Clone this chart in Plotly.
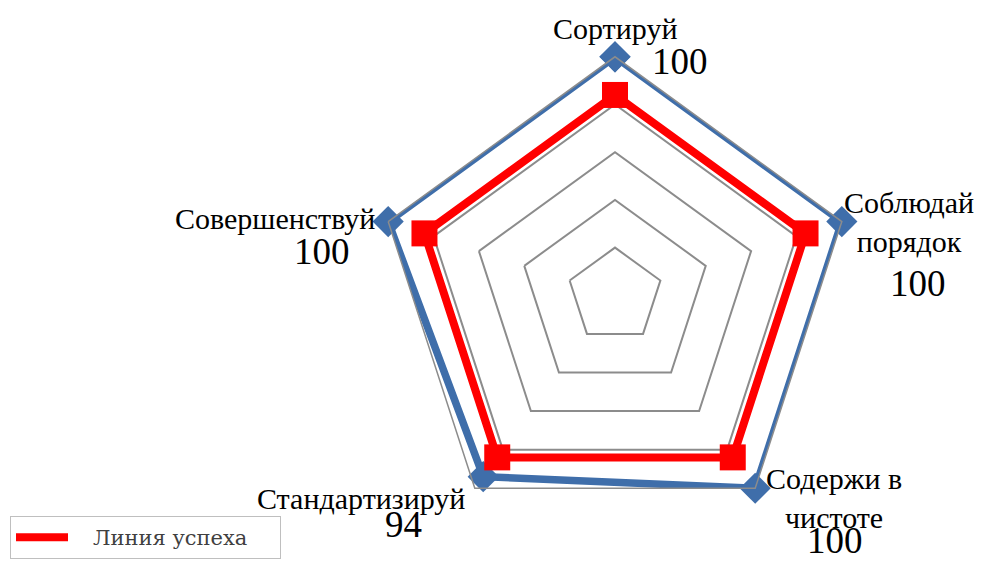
import math
import plotly.graph_objects as go

# ---- data ----
categories = ["Сортируй", "Соблюдай<br>порядок", "Содержи в<br>чистоте", "Стандартизируй", "Совершенствуй"]
actual_values = [100, 100, 100, 94, 100]
target_values = [84, 84, 84, 84, 84]
target_name = "Линия успеха"
actual_name = "Факт"
axis_max = 100

W, H = 992, 572
OFF = 8                      # page body margin of the html page
CX, CY, R = 615 - OFF, 295.3 - OFF, 238.5   # polar centre / radius in figure px

dom_x = [(CX - R) / W, (CX + R) / W]
dom_y = [(H - CY - R) / H, (H - CY + R) / H]

theta = categories + categories[:1]
BLUE = "#3F6EAA"
RED = "#FF0000"
GRID = "#8C8C8C"


def vertex(i, v):
    ang = math.radians(90 - 72 * i)
    return CX + R * v / axis_max * math.cos(ang), CY - R * v / axis_max * math.sin(ang)


fig = go.Figure()
fig.add_trace(go.Scatterpolar(
    r=actual_values + actual_values[:1], theta=theta, mode="lines+markers",
    name=actual_name, showlegend=False,
    line=dict(color=BLUE, width=7.5),
    marker=dict(symbol="diamond", size=24, color=BLUE),
))
fig.add_trace(go.Scatterpolar(
    r=target_values + target_values[:1], theta=theta, mode="lines",
    name="\u00a0\u00a0\u00a0" + target_name + "\u00a0" * 4, showlegend=True,
    line=dict(color=RED, width=8),
))
fig.add_trace(go.Scatterpolar(
    r=target_values, theta=categories, mode="markers",
    name=target_name, showlegend=False,
    marker=dict(symbol="square", size=26, color=RED),
))

annotations = []
# category labels placed around the outer ring
cat_style = [
    (0, -28, "center"), (67, 0, "center"), (79, 10, "center"), (-8, 10, "right"), (-11, -3, "right"),
]
for i, (cat, (dx, dy, xa)) in enumerate(zip(categories, cat_style)):
    px, py = vertex(i, axis_max)
    annotations.append(dict(
        x=(px + dx) / W, y=1 - (py + dy) / H, xref="paper", yref="paper",
        text=cat, showarrow=False, xanchor=xa, yanchor="middle", align="center",
        font=dict(family="Liberation Serif", size=30, color="black"),
    ))

# data labels placed relative to each actual point
offsets = [(65, 5), (76, 62), (80, 52), (-80, 48), (-66, 30)]
for i, (v, (dx, dy)) in enumerate(zip(actual_values, offsets)):
    px, py = vertex(i, v)
    annotations.append(dict(
        x=(px + dx) / W, y=1 - (py + dy) / H, xref="paper", yref="paper",
        text=str(v), showarrow=False, xanchor="center", yanchor="middle",
        font=dict(family="Liberation Serif", size=37, color="black"),
    ))

fig.update_layout(
    width=W, height=H,
    margin=dict(l=0, r=0, t=0, b=0),
    paper_bgcolor="white", plot_bgcolor="white",
    font=dict(family="Liberation Serif", color="black"),
    polar=dict(
        domain=dict(x=dom_x, y=dom_y),
        bgcolor="white",
        gridshape="linear",
        radialaxis=dict(range=[0, axis_max], dtick=20, showticklabels=False, ticks="",
                        showline=False, gridcolor=GRID, gridwidth=1.5),
        angularaxis=dict(rotation=90, direction="clockwise", showgrid=False,
                         showticklabels=False,
                         linecolor=GRID, linewidth=1.5, ticks=""),
    ),
    showlegend=True,
    legend=dict(x=(10 - OFF) / W, y=1 - (516 - OFF) / H, xanchor="left", yanchor="top",
                bordercolor="#BFBFBF", borderwidth=1, bgcolor="white",
                itemwidth=52,
                font=dict(family="DejaVu Serif", size=21, color="#404040")),
    annotations=annotations,
)

fig.write_html("out.html")
